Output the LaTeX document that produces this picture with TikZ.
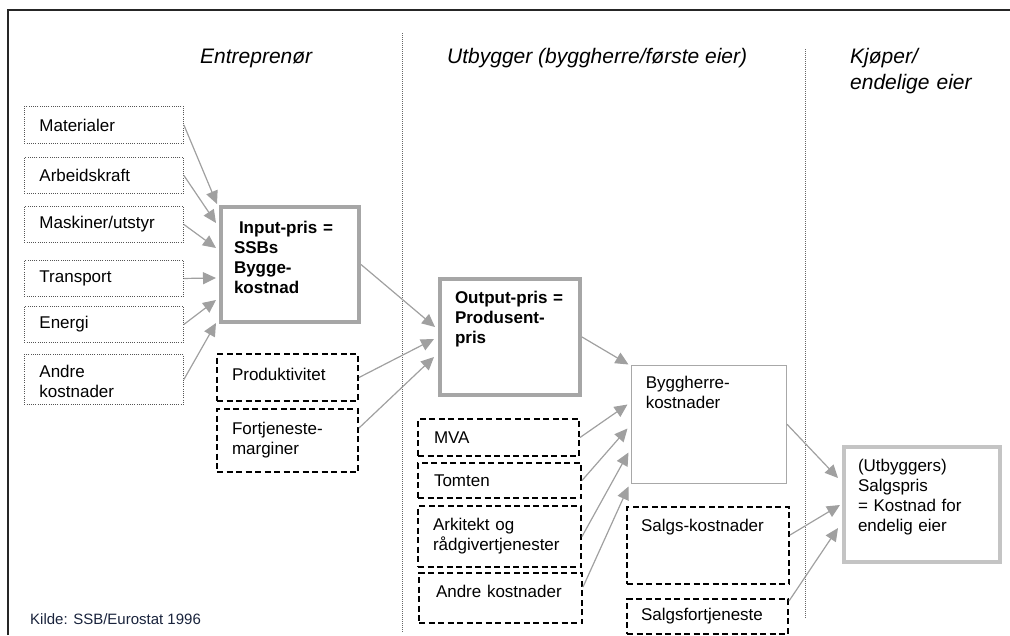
\documentclass[tikz,border=0pt]{standalone}
\usepackage{fontspec}
\setmainfont{Liberation Sans}
\usetikzlibrary{arrows.meta,calc}
\definecolor{arrg}{HTML}{A0A0A0}
\definecolor{thickg}{HTML}{A6A6A6}
\definecolor{lightg}{HTML}{C4C4C4}
\definecolor{byggc}{HTML}{A8A8A8}
\definecolor{dotc}{HTML}{555555}
\definecolor{sepc}{HTML}{666666}
\definecolor{kildec}{RGB}{25,35,60}
\begin{document}
\begin{tikzpicture}[x=1pt,y=-1pt,
  every node/.style={font=\fontsize{17}{20}\selectfont, inner ysep=0pt, align=left},
  dotbox/.style={draw=dotc, line width=0.9pt, dash pattern=on 1pt off 1.2pt, inner xsep=15pt, anchor=north west},
  dashbox/.style={draw=black, line width=2pt, dash pattern=on 6pt off 3.5pt, inner xsep=15pt, anchor=north west},
  thickbox/.style={draw=thickg, line width=4pt, anchor=north west, font=\fontsize{17}{20}\selectfont\bfseries},
  finbox/.style={draw=lightg, line width=4pt, anchor=north west, inner xsep=14pt},
  byggbox/.style={draw=byggc, line width=1.5pt, anchor=north west, inner xsep=14.5pt},
  hdr/.style={font=\fontsize{21}{26}\selectfont\itshape, inner sep=0pt},
  conn/.style={draw=arrg, line width=1.2pt, -{Triangle[length=13pt,width=12pt]}},
  sep/.style={draw=sepc, line width=0.8pt, dash pattern=on 1pt off 1pt}
]
\useasboundingbox (0,0) rectangle (1010,635);
% frame
\draw[line width=1.6pt, draw=black!85] (8,635) -- (8,10) -- (1010,10);
% separators
\draw[sep] (402,33) -- (402,632);
\draw[sep] (805,49) -- (805,618);
% headers
\node[hdr, anchor=base west] (h1) at (200,63) {Entreprenør};
\node[hdr, anchor=base west] (h2) at (447,63) {Utbygger (byggherre/første eier)};
\node[hdr, anchor=north west, text width=150pt, text height=16pt] (h3) at (850,47) {Kjøper/\\endelige eier};
% left column
\node[dotbox, minimum width=159pt, minimum height=37pt, text width=129pt] (mat) at (24,106) {Materialer};
\node[dotbox, minimum width=159pt, minimum height=36pt, text width=129pt] (arb) at (24,157) {Arbeidskraft};
\node[dotbox, minimum width=159pt, minimum height=36pt, text width=129pt] (mask) at (24,206) {Maskiner/utstyr};
\node[dotbox, minimum width=159pt, minimum height=36pt, text width=129pt] (trans) at (24,260) {Transport};
\node[dotbox, minimum width=159pt, minimum height=36pt, text width=129pt] (ener) at (24,306) {Energi};
\node[dotbox, text width=129pt, text height=23.5pt, text depth=26.5pt] (andA) at (24,354) {Andre\\kostnader};
% input box
\node[thickbox, inner xsep=13pt, text width=112pt, text height=26pt, text depth=89pt] (inp) at (219,205)
  {\mbox{\hspace*{5pt}Input-pris =}\\SSBs\\Bygge-\\kostnad};
% productivity / margins
\node[dashbox, text width=111pt, text height=26pt, text depth=21pt] (prod) at (216,353) {Produktivitet};
\node[dashbox, text width=111pt, text height=25pt, text depth=38pt] (fort) at (216,408) {\mbox{Fortjeneste-}\\marginer};
% output box
\node[thickbox, inner xsep=15pt, text width=110pt, text height=24pt, text depth=92pt] (out) at (438,277)
  {\mbox{Output-pris =}\\\mbox{Produsent-}\\pris};
% byggherre group
\node[dashbox, inner xsep=16pt, minimum width=161pt, minimum height=37pt, text width=129pt] (mva) at (417,418) {MVA};
\node[dashbox, inner xsep=16pt, minimum width=163pt, minimum height=35pt, text width=131pt] (tomt) at (417,462) {Tomten};
\node[dashbox, minimum width=163pt, minimum height=61pt, text width=133pt] (ark) at (417,505) {Arkitekt og\\\mbox{rådgivertjenester}};
\node[dashbox, inner xsep=17pt, text width=129pt, text height=24pt, text depth=26pt] (andB) at (418,572) {Andre kostnader};
\node[byggbox, text width=126pt, text height=23.5pt, text depth=94.5pt] (bygg) at (630.5,364.5) {\mbox{Byggherre-}\\kostnader};
\node[dashbox, inner xsep=14pt, text width=134pt, text height=24pt, text depth=53pt] (sk) at (626,506) {\mbox{Salgs-kostnader}};
\node[dashbox, inner xsep=14pt, minimum width=161pt, minimum height=35pt, text width=133pt] (sf) at (626,598) {Salgsfortjeneste};
% final box
\node[finbox, text width=128pt, text height=24pt, text depth=91pt] (fin) at (842,445)
  {(Utbyggers)\\Salgspris\\= Kostnad for\\endelig eier};
% source
\node[anchor=base west, inner sep=0pt, font=\fontsize{15}{18}\selectfont, text=kildec] (kilde) at (30,624) {Kilde: SSB/Eurostat 1996};
% connectors: inputs
\draw[conn] (mat.east) -- ($(inp.north west)+(-2,-1)$);
\draw[conn] (arb.east) -- ($(inp.north west)+(-3,18)$);
\draw[conn] (mask.east) -- ($(inp.north west)+(-3,43)$);
\draw[conn] (trans.east) -- ($(inp.north west)+(-3,73)$);
\draw[conn] (ener.east) -- ($(inp.north west)+(-3,95)$);
\draw[conn] (andA.east) -- ($(inp.north west)+(-3,118)$);
% to output
\draw[conn] (inp.east) -- ($(out.north west)+(-3,50)$);
\draw[conn] (prod.east) -- ($(out.north west)+(-4,62)$);
\draw[conn] ($(fort.north east)+(0,20)$) -- ($(out.north west)+(-4,80)$);
% to byggherre
\draw[conn] (out.east) -- ($(bygg.north west)+(-2,0)$);
\draw[conn] (mva.east) -- ($(bygg.north west)+(-3,40)$);
\draw[conn] (tomt.east) -- ($(bygg.north west)+(-3,64)$);
\draw[conn] (ark.east) -- ($(bygg.north west)+(-2,88)$);
\draw[conn] ($(andB.north east)+(0,15)$) -- ($(bygg.north west)+(-2,122)$);
% to final
\draw[conn] (bygg.east) -- ($(fin.north west)+(-4,33)$);
\draw[conn] ($(sk.north east)+(0,29)$) -- ($(fin.north west)+(-2,60)$);
\draw[conn] ($(sf.north east)+(0,3)$) -- ($(fin.north west)+(-4,83)$);
\end{tikzpicture}
\end{document}
